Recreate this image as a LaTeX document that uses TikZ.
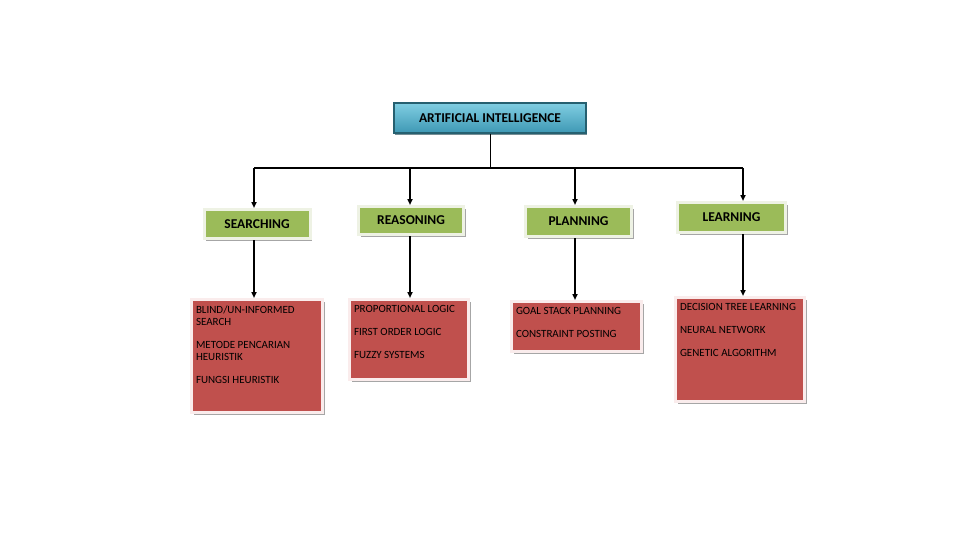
\documentclass[tikz,border=0pt]{standalone}
\usepackage{fontspec}
\setmainfont{Carlito}
\usetikzlibrary{arrows.meta,positioning,calc,shadows}
\definecolor{topcolor}{RGB}{128,206,226}
\definecolor{botcolor}{RGB}{62,152,180}
\definecolor{rimcolor}{RGB}{38,96,112}
\definecolor{catcolor}{RGB}{155,187,89}
\definecolor{catrim}{RGB}{238,242,228}
\definecolor{listcolor}{RGB}{192,80,77}
\definecolor{listrim}{RGB}{250,236,236}
\tikzset{
  headbox/.style={draw=rimcolor, line width=1.5pt, top color=topcolor, bottom color=botcolor,
    minimum width=192, minimum height=30, inner sep=0pt,
    font=\fontsize{13.5}{15}\selectfont\bfseries,
    drop shadow={shadow xshift=1pt, shadow yshift=-2pt, fill=rimcolor!70!black, opacity=0.6}},
  catbox/.style={draw=catrim, line width=3pt, fill=catcolor, inner sep=0pt,
    font=\fontsize{13.5}{15}\selectfont\bfseries,
    drop shadow={shadow xshift=2pt, shadow yshift=-2pt, fill=gray!70, opacity=1}},
  listbox/.style={draw=listrim, line width=3pt, fill=listcolor, inner xsep=4.5pt, inner ysep=6pt,
    anchor=north west, font=\fontsize{11}{12}\selectfont,
    drop shadow={shadow xshift=2pt, shadow yshift=-2pt, fill=gray!70, opacity=1}},
  busln/.style={line width=1.3pt},
  guide/.style={-{Triangle[length=6pt,width=5pt]}, line width=2pt},
}
\newcommand{\itemlist}[3]{\parbox[t][#2pt][t]{#1pt}{\raggedright #3}}

\begin{document}
\begin{tikzpicture}[x=1pt,y=-1pt]
    \useasboundingbox (0,0) rectangle (960,540);
    % root
    \node[headbox] (ai) at (490,118) {ARTIFICIAL INTELLIGENCE};
    % columns on the bus
    \coordinate (col1) at (254,168);
    \coordinate (col2) at (410,168);
    \coordinate (col3) at (575,168);
    \coordinate (col4) at (743,168);
    % categories
    \node[catbox, minimum width=106, minimum height=29] (srch) at (257,224) {SEARCHING};
    \node[catbox, minimum width=105, minimum height=28] (reas) at (411,220.5) {REASONING};
    \node[catbox, minimum width=106, minimum height=30] (plan) at (578.5,221.5) {PLANNING};
    \node[catbox, minimum width=108, minimum height=30] (lrn) at (731.5,217.5) {LEARNING};
    % topic lists
    \node[listbox] (srchlist) at (190,298) {\itemlist{122}{101}{BLIND/UN-INFORMED SEARCH\\[11pt]
      METODE PENCARIAN HEURISTIK\\[11pt] FUNGSI HEURISTIK}};
    \node[listbox] (reaslist) at (348,298) {\itemlist{110}{68}{PROPORTIONAL LOGIC\\[11pt]
      FIRST ORDER LOGIC\\[11pt] FUZZY SYSTEMS}};
    \node[listbox] (planlist) at (510,300) {\itemlist{121}{38}{GOAL STACK PLANNING\\[11pt]
      CONSTRAINT POSTING}};
    \node[listbox] (lrnlist) at (674,296) {\itemlist{120}{92}{DECISION TREE LEARNING\\[11pt]
      NEURAL NETWORK\\[11pt] GENETIC ALGORITHM}};
    % trunk and bus
    \draw[line width=1pt] (ai.south) -- (ai.south |- col1);
    \draw[busln] (col1) -- (col4);
    % arrows to categories
    \draw[guide] (col1) -- (col1 |- srch.north);
    \draw[guide] (col2) -- (col2 |- reas.north);
    \draw[guide] (col3) -- (col3 |- plan.north);
    \draw[guide] (col4) -- (col4 |- lrn.north);
    % arrows to topic lists
    \draw[guide] (srch.south -| col1) -- (col1 |- srchlist.north);
    \draw[guide] (reas.south -| col2) -- (col2 |- reaslist.north);
    \draw[guide] (plan.south -| col3) -- (col3 |- planlist.north);
    \draw[guide] (lrn.south -| col4) -- (col4 |- lrnlist.north);
  \end{tikzpicture}
\end{document}
